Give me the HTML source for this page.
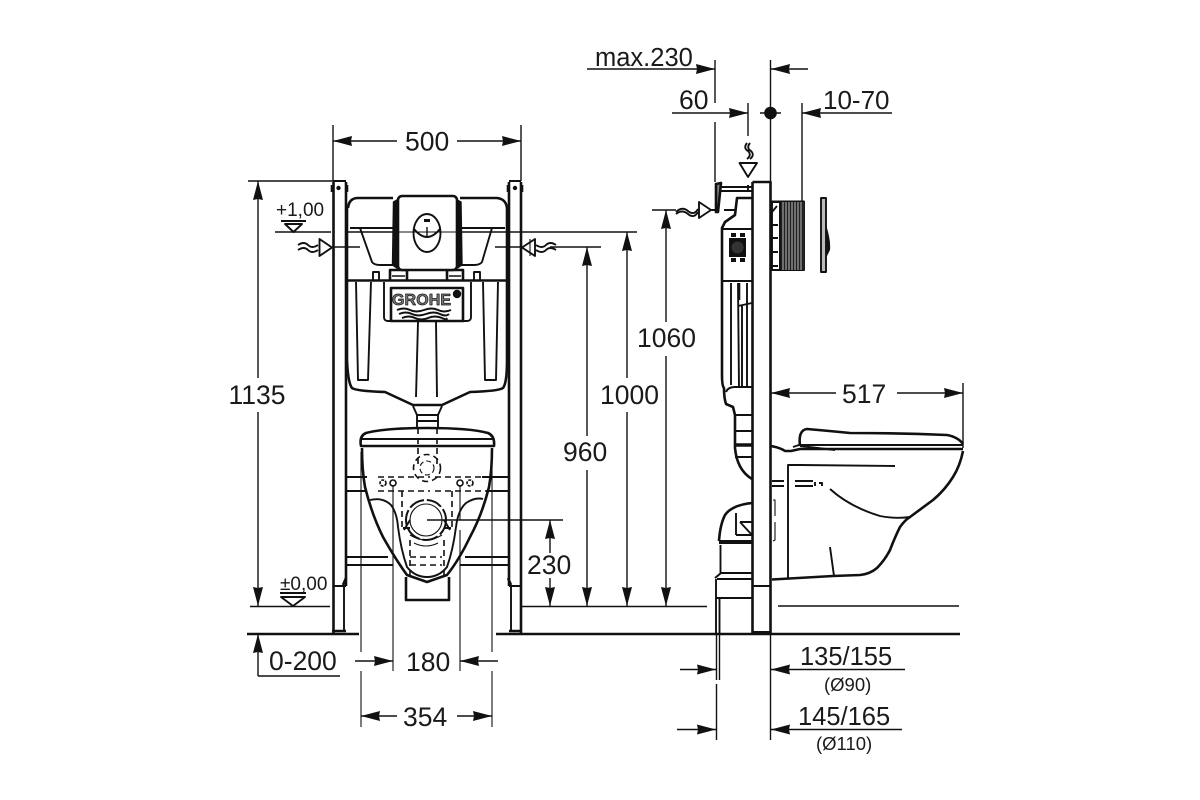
<!DOCTYPE html>
<html><head><meta charset="utf-8"><title>Dimension drawing</title>
<style>
html,body{margin:0;padding:0;background:#fff;width:1200px;height:800px;overflow:hidden}
svg{display:block}
text{font-family:"Liberation Sans",sans-serif;fill:#1a1a1a;stroke:none}
.d{font-size:26.5px}
.s{font-size:19px}
.p{font-size:18.5px}
.t{stroke-width:2.6}
.m{stroke-width:1.9}
.h{stroke-width:1.1}
.k{stroke-dasharray:12 6}
.k2{stroke-dasharray:6 4;stroke-width:1.6}
</style></head><body>
<svg width="1200" height="800" viewBox="0 0 1200 800" xmlns="http://www.w3.org/2000/svg">
<defs>
<marker id="a" viewBox="0 -6 19 12" refX="19" refY="0" markerWidth="19" markerHeight="12" markerUnits="userSpaceOnUse" orient="auto"><path d="M19 0L0 -5L1 0L0 5Z" fill="#111"/></marker>
</defs>
<rect width="1200" height="800" fill="#fff"/>
<g fill="none" stroke="#111" stroke-width="1.4" stroke-linejoin="round" stroke-linecap="butt">

<!-- ====== dimension lines left view ====== -->
<path d="M333 125V181M521 125V181"/>
<path d="M397 141H333" marker-end="url(#a)"/><path d="M457 141H521" marker-end="url(#a)"/>
<path d="M248 181H333"/>
<path d="M258 378V181" marker-end="url(#a)"/><path d="M258 412V606" marker-end="url(#a)"/>
<path d="M250 606.500H330M521 606.500H707"/>
<path d="M275 232H331M348 232H393M462 232H637"/>
<path d="M495 247H520M550 247H601"/>
<path d="M333 247H360"/>
<path d="M587 436V247" marker-end="url(#a)"/><path d="M587 470V606" marker-end="url(#a)"/>
<path d="M627 378V232" marker-end="url(#a)"/><path d="M627 412V606" marker-end="url(#a)"/>
<path d="M666 322V210" marker-end="url(#a)"/><path d="M666 356V606" marker-end="url(#a)"/>
<path d="M427 520H563"/>
<path d="M550 553V520" marker-end="url(#a)"/><path d="M550 578V606" marker-end="url(#a)"/>
<path d="M258 676V634" marker-end="url(#a)"/><path d="M258 676H340"/>
<path d="M361 452V652M361 671V727M492 452V652M492 671V727" class="h"/>
<path d="M393 485V671M460 485V520M460 530V671" class="h"/>
<path d="M355 661H393" marker-end="url(#a)"/><path d="M498 661H460" marker-end="url(#a)"/>
<path d="M397 716H361" marker-end="url(#a)"/><path d="M457 716H492" marker-end="url(#a)"/>

<!-- floor -->
<path d="M247 634H359M496 634H960" class="t"/>

<!-- ====== frame left view ====== -->
<path class="t" d="M333.500 182V634M346 182V586"/>
<path class="t" d="M509 182V586M521 182V634"/>
<path class="m" d="M333 181H346M509 181H521"/>
<path class="m" d="M333 586H346M509 586H521M344 586V632M511 586V632"/>
<path class="t" d="M332 631H346M509 631H522"/>
<path class="m" d="M347 477H367M482 477H508M347 491H365M486 491H508"/>
<path class="m" d="M347 557H388M465 557H508M347 565H393M460 565H508"/>
<circle cx="338.500" cy="188" r="1.500" fill="#111"/><circle cx="515" cy="188" r="1.500" fill="#111"/>
<path class="t" d="M332 185V192M347 185V192M508 185V192M522 185V192"/>
<path class="t" d="M346 578L343 585M508 578L511 585"/>

<!-- cistern -->
<path class="t" d="M393 198H358Q349 198 348 208M460 198H497Q506 199 507 208"/>
<path class="t" d="M347 208V360Q348 383 352 388Q356 391 385 392L413 405H442L470 392Q499 391 503 388Q507 383 507 360V208"/>
<path class="t" d="M347 280.500H507"/>
<path class="m" d="M350 228H393M460 228H505"/>
<path class="m" d="M360 228L372 262Q374 265 380 265H393M492 228L482 262Q480 265 474 265H462"/>
<path class="m" d="M373 280V272H379V280M474 280V272H480V280"/>
<path class="t" d="M390 280V270H407V280M447 280V270H463V280"/>
<path d="M392 276H405M449 276H461"/>
<path class="m" d="M356 282L358 380H368L371 282M483 282L485 380H496L498 282"/>
<path class="m" d="M418 322L416 397M436 322L437 397"/>
<path class="m" d="M384 282V317Q384 321 388 321H467Q471 321 471 317V282"/>
<rect x="391" y="288" width="72" height="33" fill="#fff" class="t"/>
<text x="392" y="305" style="font-size:16px;font-weight:bold;stroke:#111;stroke-width:.7;letter-spacing:.1px;fill:#777">GROHE</text>
<circle cx="457" cy="294" r="3.500" fill="#111"/>
<path class="m" d="M397 310Q404 307 410 310T424 310T438 310T451 310"/>
<path class="m" d="M399 314Q406 311 412 314T426 314T440 314T449 314"/>
<path class="m" d="M402 318Q409 315 415 318T428 318T442 318T446 318"/>

<!-- flush plate -->
<rect x="398" y="196" width="59" height="74" rx="4" fill="#fff" class="t"/>
<path d="M393.500 202L392.500 265L397 268V200Z" fill="#111"/>
<path d="M457 200V268L462 265L461 202Z" fill="#111"/>
<path class="m" d="M394 260L397 268M460 260L458 268"/>
<ellipse cx="427" cy="233" rx="13.500" ry="19" class="m"/>
<path class="m" d="M414 229Q427 245 440 229"/>
<path d="M427 227V238"/><rect x="424" y="219" width="6" height="3" fill="#111" stroke="none"/>
<path d="M393 232H427M427 232H462" class="h"/>

<!-- spout -->
<path class="m" d="M413 406L417 415H438L442 406"/>
<path class="m" d="M417 415V428M438 415V428M417 421H438"/>
<path class="k2" d="M418 428V468M437 428V468"/>

<!-- inlets left/right -->
<path class="m" d="M298 245Q304 241 308 245T318 245M298 250Q304 246 308 250T318 250"/>
<path d="M319.500 239V256L332 247.500Z" class="m"/>
<path class="m" d="M556 245Q550 241 546 245T536 245M556 250Q550 246 546 250T536 250"/>
<path d="M535 239V256L522 247.500Z" class="m"/>
<path d="M530 239V256" class="h"/>

<!-- level marks -->
<path d="M281 221H306M285 224H302L293.500 232Z" class="m"/>
<path d="M280 593H306M281 597H305L293 606Z" class="m"/>

<!-- wc front -->
<path class="t" d="M361 446Q359 436 366 433Q385 428 427 428Q470 428 488 433Q495 436 494 446H361Z"/>
<path class="m" d="M362 439H493"/>
<path class="t" d="M362 448Q362 470 365 487Q372 515 383 537Q396 560 407 575L427 582L447 575Q459 560 470 537Q482 515 489 487Q492 470 492 448"/>
<path class="m" d="M370 500Q383 497 391 505Q397 513 398 527Q401 550 407 567Q415 577 427 577Q439 577 447 567Q453 550 456 527Q458 510 466 503Q475 497 483 499"/>
<path d="M406 577V600H449V577" class="t"/>
<path class="k2" d="M378 477H430M435 477H490M378 491H430M435 491H490" stroke-dasharray="14 14"/>
<circle cx="427" cy="468" r="13.500" class="k2" stroke-dasharray="9 3"/>
<circle cx="427" cy="468" r="7" class="h" stroke-dasharray="5 3"/>
<circle cx="426" cy="520" r="20" stroke-width="2" stroke-dasharray="16 3"/>
<circle cx="426" cy="520" r="16" class="h"/>
<path class="h" d="M410 535Q426 545 442 535M414 543Q426 549 438 543"/>
<path class="k2" d="M402 491V530M452 491V530M410 540V577M444 540V577"/>
<path class="m" d="M404 530L410 520M450 530L444 520M403 528H410M444 528H451"/>
<path class="k2" d="M410 557H442M410 565H442"/>
<g stroke-width="1.600">
<circle cx="383" cy="483" r="3" stroke-dasharray="3 1"/><circle cx="393" cy="483" r="3"/>
<circle cx="460" cy="483" r="3"/><circle cx="470" cy="483" r="3" stroke-dasharray="3 1"/>
</g>

<!-- ====== dimensions side view ====== -->
<path d="M587 69H715" marker-end="url(#a)"/>
<path d="M715 60V103M715 122V182"/>
<path d="M808 69H771" marker-end="url(#a)"/>
<path d="M770.500 60V182"/>
<path d="M672 113H748" marker-end="url(#a)"/>
<path d="M748 103V136"/>
<path d="M760 113H781"/>
<circle cx="770.500" cy="113" r="6.300" fill="#111" stroke="none"/>
<path d="M892 113H802" marker-end="url(#a)"/>
<path d="M802 103V202"/>
<path d="M747 143Q743 148 748 151Q752 155 747 159M750 143Q746 148 751 151Q755 155 750 159" class="m"/>
<path d="M739.500 163H757L748 177Z" class="m"/>
<path d="M652 210H676"/>
<path class="m" d="M676 212Q682 206 688 211T698 209"/><path class="m" d="M676 214Q682 209 688 214T698 212"/>
<path d="M699 202V218L711 210Z" class="m"/>
<path d="M836 393H771" marker-end="url(#a)"/>
<path d="M897 393H963" marker-end="url(#a)"/>
<path d="M963 383V448"/>
<path d="M716.500 634V680M716.500 684V740M719.500 634V680"/>
<path d="M770.500 634V740"/>
<path d="M680 669.500H716" marker-end="url(#a)"/>
<path d="M905 669.500H771" marker-end="url(#a)"/>
<path d="M677 729.500H716" marker-end="url(#a)"/>
<path d="M902 729.500H771" marker-end="url(#a)"/>

<!-- ====== side elevation ====== -->
<path class="t" d="M752.500 182H770.500V634M752.500 182V634"/>
<path class="m" d="M753 586H770M752 632H771"/>
<path class="t" d="M716 184L721 183L718 212L716 212Z" fill="#888"/>
<path class="m" d="M720 187H752M720 191H752M748 185V190"/>
<path class="m" d="M711 210H716M724 210H735"/>
<path class="t" d="M752 198H737L735 215L725 222L722 228V340"/>
<path class="m" d="M723 229H752M723 281H752"/>
<rect x="729" y="238" width="17" height="19" fill="#111" stroke="none"/>
<circle cx="737.500" cy="247.500" r="6" fill="#333" stroke="none"/>
<rect x="731" y="233" width="5" height="4" fill="#111" stroke="none"/><rect x="740" y="233" width="5" height="4" fill="#111" stroke="none"/>
<rect x="731" y="258" width="5" height="4" fill="#111" stroke="none"/><rect x="740" y="258" width="5" height="4" fill="#111" stroke="none"/>
<path class="t" d="M722 340V375Q722 386 724 388Q724 398 726 404L733 407L735 415V448Q737 470 752 479"/>
<path class="m" d="M731 283V385M738 283L739 387M747 283V387M738 306L752 303M742 306V387M752 387H735Q728 387 726 392"/>
<path class="t" d="M739 283V300"/>
<path class="m" d="M735 415H752M735 431H752M735 457H752"/>
<path d="M734 445H752" stroke-width="3.500"/>
<!-- ribbed box -->
<rect x="772" y="201.500" width="32" height="68.500" fill="#fff" class="m"/>
<rect x="779" y="202" width="25" height="68" fill="#222" stroke="none"/>
<path d="M783 202V270M786 202V270M789 202V270M792 202V270M795 202V270M798 202V270M801 202V270" stroke="#bbb" stroke-width="1"/>
<path d="M772 212L777 206M772 225H778M772 238H778M772 252H778M772 266H778" class="m"/>
<path d="M772 202H780V270H772" class="m"/>
<path d="M821 198H826V272H821Z" fill="#bbb" class="m"/>
<path d="M826 225Q831 240 830 250L826 258Z" fill="#111" stroke="none"/>

<!-- elbow & pipes -->
<path class="t" d="M752 503Q732 505 725 515Q720 525 719 541"/>
<path class="m" d="M736 513V535M736 535H752M740 522L752 535M740 522H752"/>
<path d="M719 542H752" stroke-width="4"/>
<path class="m" d="M720.500 545V573M715 578L721 573H752M716 579V598H752M717 579H752"/>
<path class="m" d="M716 598V634M719.500 598V634"/>

<!-- wc side -->
<path class="t" d="M771 446Q781 448 785 451H791L800 449H963"/>
<path class="m" d="M793 447L799 445H963M800 446L835 450"/>
<path class="t" d="M800 446Q798 430 807 429Q830 431 850 433Q900 433 947 435Q958 437 963 444"/>
<path class="t" d="M963 451Q960 466 953 477Q945 490 933 500L910 517Q905 520 900 527Q895 537 890 550Q885 560 877 568Q870 574 860 575L833 576L772 579.500"/>
<path class="m" d="M830 489Q850 507 880 516Q895 519 910 517"/>
<path class="m" d="M788 579V465H800L895 466"/>
<path d="M772 481H784M772 486H784M795 481H813M795 486H813M815 482V486M819 483H822V486" class="m"/>
<path d="M773 500H775V516M775 522V540L773 541" class="h"/>
<path class="m" d="M830 547L834 576"/>
<path d="M778 606H959"/>
</g>

<!-- ====== labels ====== -->
<text class="d" x="405" y="150.500">500</text>
<text class="d" x="228.500" y="404">1135</text>
<text class="s" x="276" y="216">+1,00</text>
<text class="s" x="280" y="590">±0,00</text>
<text class="d" x="563" y="461">960</text>
<text class="d" x="600" y="404">1000</text>
<text class="d" x="637" y="347">1060</text>
<text class="d" x="527" y="574">230</text>
<text class="d" x="269" y="670">0-200</text>
<text class="d" x="406" y="671">180</text>
<text class="d" x="403" y="726">354</text>
<text class="d" style="font-size:25.500px" x="595" y="66">max.230</text>
<text class="d" x="679" y="109">60</text>
<text class="d" x="823" y="109" style="font-size:26px">10-70</text>
<text class="d" x="842" y="403">517</text>
<text class="d" x="800" y="665" style="font-size:25.500px">135/155</text>
<text class="p" x="824" y="691">(Ø90)</text>
<text class="d" x="798" y="725" style="font-size:25.500px">145/165</text>
<text class="p" x="816" y="750">(Ø110)</text>
</svg>
</body></html>
